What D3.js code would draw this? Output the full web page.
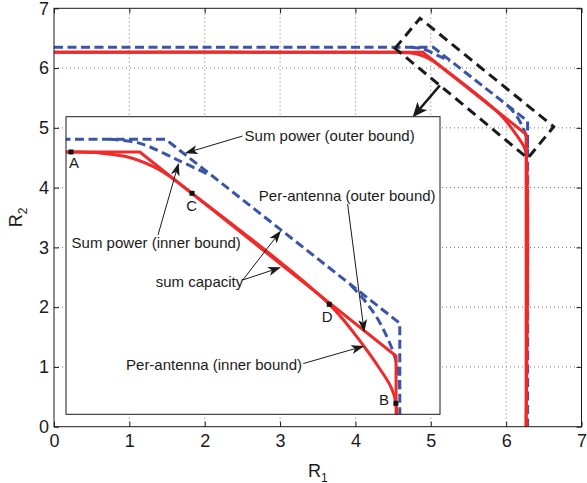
<!DOCTYPE html>
<html>
<head>
<meta charset="utf-8">
<title>Rate region</title>
<script src="https://cdnjs.cloudflare.com/ajax/libs/d3/7.8.5/d3.min.js"></script>
<style>
  body {margin:0; background:#fff;}
  svg {font-family:"Liberation Sans", Arial, sans-serif;}
  .axis text {font-size:18px; fill:#1a1a1a;}
  .axis line {stroke:#1a1a1a;}
  .axis path {display:none;}
  .grid line {stroke:#777; stroke-width:1; stroke-dasharray:1,3;}
  .frame {fill:none; stroke:#1a1a1a; stroke-width:1;}
  .label {font-size:18px; fill:#1a1a1a;}
  .note {font-size:15px; fill:#1a1a1a;}
  .blue {fill:none; stroke:#3a55a8; stroke-width:3; stroke-dasharray:9,4.5;}
  .red {fill:none; stroke:#ee2b2b; stroke-width:3;}
</style>
</head>
<body>
<svg id="chart" width="587" height="483"></svg>
<script>
var xTicks = [0, 1, 2, 3, 4, 5, 6, 7];
var yTicks = [0, 1, 2, 3, 4, 5, 6, 7];

// region boundaries as [R1, R2]
var sumPowerOuter = [[0,6.348],[5.033,6.348],[6.285,5.112],[6.285,0]];
// sum-power inner bound: only the two pieces that leave the outer bound
// (elsewhere it runs on top of the outer bound)
var sumPowerInnerTop = [[4.735,6.348],[4.895,6.321],[5.097,6.209],[5.252,6.118]];
var sumPowerInnerLow = [[6.025,5.366],[6.095,5.268],[6.164,5.147],[6.217,5.019],[6.255,4.899],
                        [6.276,4.785],[6.285,4.663]];
var perAntennaOuter = [[0,6.263],[4.895,6.263],[6.265,4.892],[6.265,0]];
var perAntennaInner = [[0,6.263],[4.527,6.263],[4.681,6.256],[4.841,6.226],[5.001,6.142],
                       [5.174,5.985],[5.908,5.239],[6.095,4.954],[6.175,4.811],[6.237,4.685],
                       [6.264,4.574],[6.265,0]];
var cornerNames = ["A", "C", "D", "B"];
var cornerR1    = [4.527, 5.174, 5.908, 6.264];
var cornerR2    = [6.263, 5.985, 5.239, 4.574];
var cornerLabR1 = [4.543, 5.172, 5.897, 6.200];
var cornerLabR2 = [6.154, 5.868, 5.122, 4.563];

// zoom box drawn on the main axes
var zoomBox = [[4.526,6.331],[4.857,6.833],[6.631,5.019],[6.287,4.491]];
var zoomArrow = [[5.121,5.710],[4.759,5.177]];

// annotations inside the inset, inset data units
var notes = [
  {text:"Sum power (outer bound)",   at:[5.455,6.337], anchor:"start", from:[5.444,6.370], to:[[5.135,6.254]]},
  {text:"Sum power (inner bound)",   at:[4.530,5.618], anchor:"start", from:[4.992,5.705], to:[[5.103,6.191]]},
  {text:"sum capacity",              at:[4.980,5.356], anchor:"start", from:[5.446,5.403], to:[[5.650,5.735],[5.650,5.488]]},
  {text:"Per-antenna (outer bound)", at:[5.531,5.935], anchor:"start", from:[6.006,5.913], to:[[6.095,5.050]]},
  {text:"Per-antenna (inner bound)", at:[5.762,4.798], anchor:"end",   from:[5.769,4.841], to:[[6.095,4.959]]}
];

var svg = d3.select("#chart");
var mLeft = 54, mRight = 581.5, mTop = 8.3, mBottom = 426.7;
var x = d3.scaleLinear().domain([0, 7]).range([mLeft, mRight]);
var y = d3.scaleLinear().domain([0, 7]).range([mBottom, mTop]);

// inset axes position (pixels) and its zoomed view
var inL = 66, inR = 440, inT = 116.7, inB = 414.3;
var xi = d3.scaleLinear().domain([4.5, 6.5]).range([inL, inR]);
var yi = d3.scaleLinear().domain([4.5, 6.5]).range([inB, inT]);

var defs = svg.append("defs");
defs.append("clipPath").attr("id", "clipMain").append("rect")
    .attr("x", mLeft).attr("y", mTop).attr("width", mRight - mLeft).attr("height", mBottom - mTop);
defs.append("clipPath").attr("id", "clipInset").append("rect")
    .attr("x", inL).attr("y", inT).attr("width", inR - inL).attr("height", inB - inT);

// grid
var grid = svg.append("g").attr("class", "grid");
grid.selectAll(".gx").data(xTicks.slice(1, -1)).enter().append("line")
    .attr("x1", d => x(d)).attr("x2", d => x(d)).attr("y1", mBottom).attr("y2", mTop);
grid.selectAll(".gy").data(yTicks.slice(1, -1)).enter().append("line")
    .attr("y1", d => y(d)).attr("y2", d => y(d)).attr("x1", mLeft).attr("x2", mRight);

// axes, ticks pointing in
var fmt = d3.format("d");
svg.append("g").attr("class", "axis").attr("transform", "translate(0," + mBottom + ")")
   .call(d3.axisBottom(x).tickValues(xTicks).tickFormat(fmt).tickSize(-5).tickSizeOuter(0).tickPadding(8));
svg.append("g").attr("class", "axis").attr("transform", "translate(" + mLeft + ",0)")
   .call(d3.axisLeft(y).tickValues(yTicks).tickFormat(fmt).tickSize(-5).tickSizeOuter(0).tickPadding(5));
svg.append("g").attr("class", "axis").attr("transform", "translate(0," + mTop + ")")
   .call(d3.axisTop(x).tickValues(xTicks).tickSize(-5).tickSizeOuter(0).tickFormat(""));
svg.append("g").attr("class", "axis").attr("transform", "translate(" + mRight + ",0)")
   .call(d3.axisRight(y).tickValues(yTicks).tickSize(-5).tickSizeOuter(0).tickFormat(""));

function drawCurves(g, sx, sy) {
  var straight = d3.line().x(d => sx(d[0])).y(d => sy(d[1]));
  var smooth = d3.line().x(d => sx(d[0])).y(d => sy(d[1])).curve(d3.curveCatmullRom.alpha(0.5));
  g.append("path").attr("class", "blue").attr("d", straight(sumPowerOuter));
  g.append("path").attr("class", "blue").attr("d", smooth(sumPowerInnerTop));
  g.append("path").attr("class", "blue").attr("d", smooth(sumPowerInnerLow));
  g.append("path").attr("class", "red").attr("d", straight(perAntennaOuter));
  g.append("path").attr("class", "red").attr("d", smooth(perAntennaInner));
}

var main = svg.append("g").attr("clip-path", "url(#clipMain)");
drawCurves(main, x, y);

// dashed zoom box
svg.append("path")
   .attr("d", d3.line().x(d => x(d[0])).y(d => y(d[1]))(zoomBox) + "Z")
   .attr("fill", "none").attr("stroke", "#1a1a1a").attr("stroke-width", 3)
   .attr("stroke-dasharray", "10,6");

function arrow(g, x1, y1, x2, y2, width, len, half) {
  var a = Math.atan2(y2 - y1, x2 - x1);
  var bx = x2 - len * Math.cos(a), by = y2 - len * Math.sin(a);
  var nx = x2 - 0.75 * len * Math.cos(a), ny = y2 - 0.75 * len * Math.sin(a);
  g.append("line").attr("x1", x1).attr("y1", y1).attr("x2", nx).attr("y2", ny)
   .attr("stroke", "#1a1a1a").attr("stroke-width", width);
  var px = -Math.sin(a) * half, py = Math.cos(a) * half;
  g.append("path")
   .attr("d", "M" + x2 + "," + y2 + "L" + (bx + px) + "," + (by + py) + "L" + nx + "," + ny +
              "L" + (bx - px) + "," + (by - py) + "Z")
   .attr("fill", "#1a1a1a");
}

arrow(svg, x(zoomArrow[0][0]), y(zoomArrow[0][1]), x(zoomArrow[1][0]), y(zoomArrow[1][1]), 2.5, 15, 6.5);

// inset
var inset = svg.append("g");
inset.append("rect").attr("x", inL).attr("y", inT).attr("width", inR - inL).attr("height", inB - inT)
     .attr("fill", "#fff");
var inPlot = inset.append("g").attr("clip-path", "url(#clipInset)");
drawCurves(inPlot, xi, yi);
inset.append("rect").attr("class", "frame").attr("x", inL).attr("y", inT)
     .attr("width", inR - inL).attr("height", inB - inT).attr("stroke-width", 1.5);

inset.selectAll(".mk").data(cornerNames).enter().append("rect")
     .attr("x", (d, i) => xi(cornerR1[i]) - 2.5).attr("y", (d, i) => yi(cornerR2[i]) - 2.5)
     .attr("width", 5).attr("height", 5).attr("fill", "#111");
inset.selectAll(".mkl").data(cornerNames).enter().append("text")
     .attr("class", "note").attr("text-anchor", "middle")
     .attr("x", (d, i) => xi(cornerLabR1[i])).attr("y", (d, i) => yi(cornerLabR2[i]))
     .text(d => d);

notes.forEach(function(n) {
  inset.append("text").attr("class", "note").attr("text-anchor", n.anchor)
       .attr("x", xi(n.at[0])).attr("y", yi(n.at[1])).text(n.text);
  n.to.forEach(function(t) {
    arrow(inset, xi(n.from[0]), yi(n.from[1]), xi(t[0]), yi(t[1]), 1, 13, 4.5);
  });
});

// frame and axis labels
svg.append("rect").attr("class", "frame").attr("x", mLeft).attr("y", mTop)
   .attr("width", mRight - mLeft).attr("height", mBottom - mTop);

var xl = svg.append("text").attr("class", "label").attr("text-anchor", "middle")
   .attr("x", (mLeft + mRight) / 2).attr("y", 476.5);
xl.append("tspan").text("R");
xl.append("tspan").attr("font-size", "12px").attr("dy", 5).text("1");

var yl = svg.append("text").attr("class", "label").attr("text-anchor", "middle")
   .attr("transform", "translate(21.5," + ((mTop + mBottom) / 2) + ") rotate(-90)");
yl.append("tspan").text("R");
yl.append("tspan").attr("font-size", "12px").attr("dy", 5).text("2");
</script>
</body>
</html>
